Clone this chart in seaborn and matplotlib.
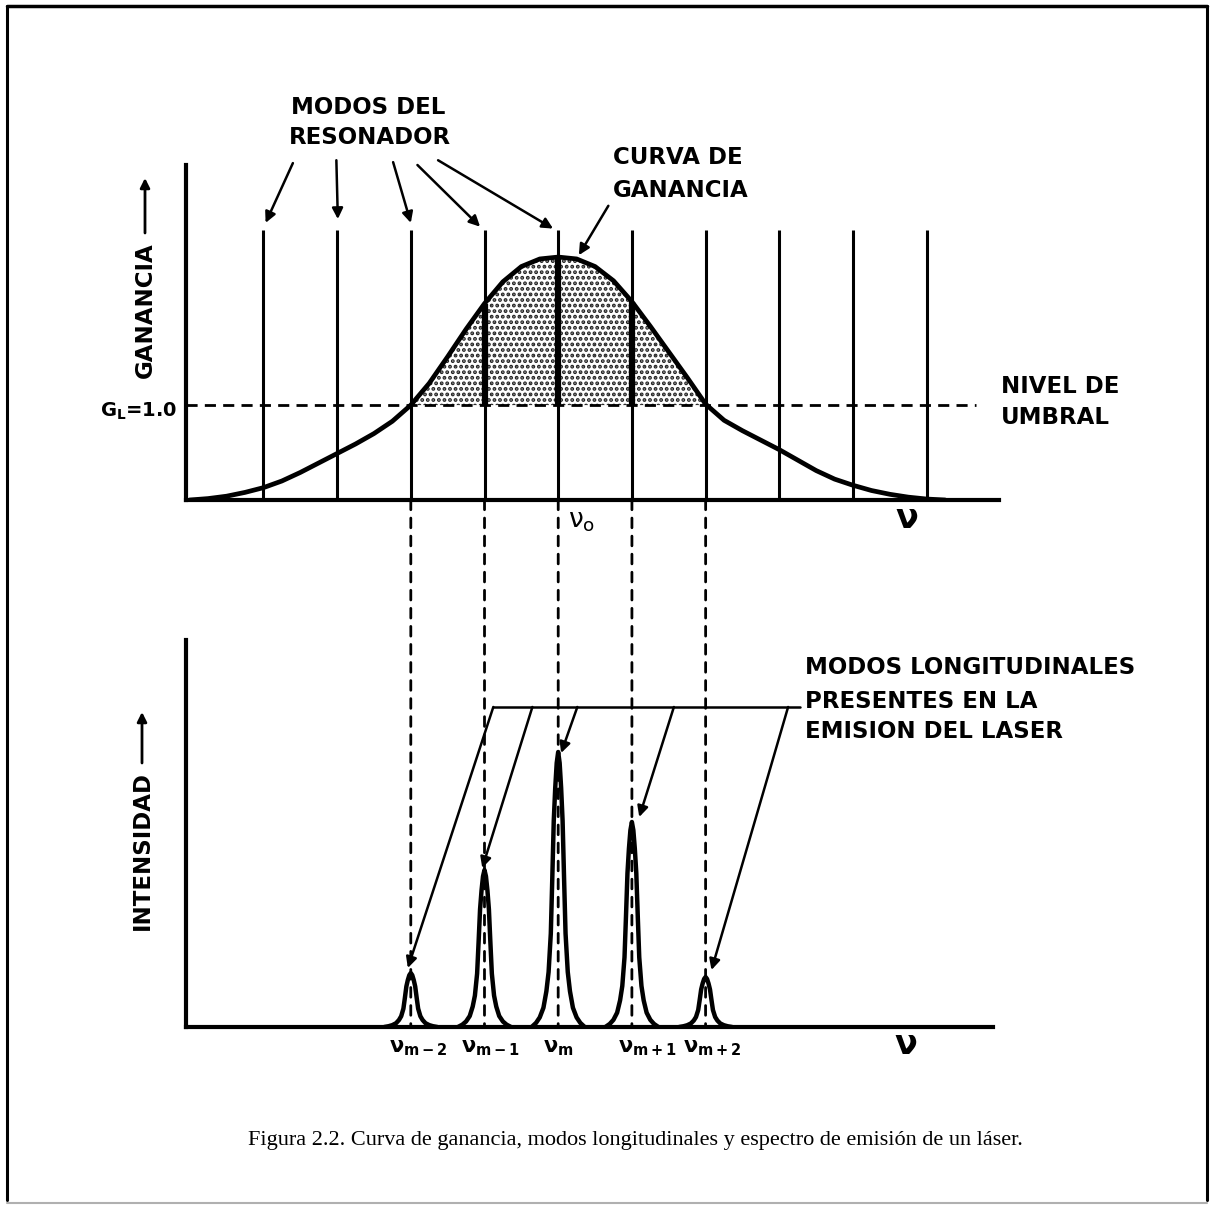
import numpy as np
import pandas as pd
import matplotlib
matplotlib.use("Agg")
import matplotlib.pyplot as plt
import seaborn as sns
from matplotlib.patches import ConnectionPatch, FancyArrowPatch
from matplotlib.lines import Line2D

# ---------------- data (frequency in units of the mode spacing, mode m at 0) ----------------
mode_positions = [-4, -3, -2, -1, 0, 1, 2, 3, 4, 5]      # resonator modes
mode_top = 2.84                                           # drawn height of resonator mode lines
threshold = 1.0                                           # G_L = 1.0

gain_x = [-5.0, -4.75, -4.5, -4.25, -4.0, -3.75, -3.5, -3.25, -3.0, -2.75, -2.5, -2.25,
          -2.0, -1.75, -1.5, -1.25, -1.0, -0.75, -0.5, -0.25, 0.0, 0.25, 0.5, 0.75,
          1.0, 1.25, 1.5, 1.75, 2.0, 2.25, 2.5, 2.75, 3.0, 3.25, 3.5, 3.75,
          4.0, 4.25, 4.5, 4.75, 5.0, 5.25]
gain_y = [0.0, 0.015, 0.04, 0.08, 0.13, 0.20, 0.29, 0.39, 0.49, 0.59, 0.70, 0.83,
          1.00, 1.23, 1.51, 1.80, 2.07, 2.30, 2.46, 2.54, 2.56, 2.54, 2.46, 2.31,
          2.09, 1.83, 1.56, 1.29, 1.01, 0.84, 0.73, 0.63, 0.53, 0.42, 0.31, 0.22,
          0.155, 0.10, 0.06, 0.03, 0.01, 0.0]

lasing_modes = [-2, -1, 0, 1, 2]
lasing_gain = [1.00, 2.07, 2.56, 2.09, 1.01]
intensity = [0.54, 1.57, 2.75, 2.05, 0.50]               # peak heights of emitted modes

peak_half_offsets = [0, 0.02, 0.04, 0.06, 0.08, 0.10, 0.13, 0.16, 0.20, 0.25, 0.30, 0.36]
peak_half_profile = [1.0, 0.96, 0.87, 0.75, 0.54, 0.34, 0.20, 0.13, 0.07, 0.035, 0.015, 0.0]

mode_labels = [r"$\nu_{m-2}$", r"$\nu_{m-1}$", r"$\nu_{m}$", r"$\nu_{m+1}$", r"$\nu_{m+2}$"]

# arrows "MODOS DEL RESONADOR": tails -> tips (top panel data coords)
res_tail_x = [-3.60, -3.01, -2.24, -1.91, -1.63]
res_tail_y = [3.55, 3.58, 3.56, 3.53, 3.58]
res_tip_x = [-3.97, -2.99, -2.00, -1.06, -0.07]
res_tip_y = [2.92, 2.96, 2.92, 2.88, 2.86]

# lines "MODOS LONGITUDINALES ..." (bottom panel data coords)
bracket_y = 3.2
bracket_x = [-0.88, 3.28]
long_tail_x = [-0.88, -0.35, 0.26, 1.57, 3.12]
long_tip_x = [-2.04, -1.03, 0.04, 1.10, 2.08]
long_tip_y = [0.59, 1.59, 2.74, 2.10, 0.57]

# ---------------- figure ----------------
W, H = 1215, 1206
sns.set_theme(style="white")
plt.rcParams["font.family"] = ["DejaVu Sans"]
plt.rcParams["mathtext.default"] = "regular"
plt.rcParams["hatch.linewidth"] = 1.9

fig = plt.figure(figsize=(W / 100, H / 100), dpi=100)
fig.patch.set_facecolor("white")


def fx(px):
    return px / W


def fy(py):
    return 1 - py / H


# top panel: baseline at y=500 px, top of axis 165 px, x from 186 to 999 px
ax1 = fig.add_axes([fx(186), fy(500), fx(999) - fx(186), fy(165) - fy(500)])
# bottom panel: baseline 1027 px, top 640 px, x from 186 to 993 px
ax2 = fig.add_axes([fx(186), fy(1027), fx(993) - fx(186), fy(640) - fy(1027)])

for ax in (ax1, ax2):
    ax.set_facecolor("none")
    for s in ("top", "right"):
        ax.spines[s].set_visible(False)
    for s in ("left", "bottom"):
        ax.spines[s].set_linewidth(3.0)
        ax.spines[s].set_color("black")
    ax.set_xticks([])
    ax.set_yticks([])

ax1.set_xlim(-5.05, 5.98)
ax1.set_ylim(0, 3.53)
ax2.set_xlim(-5.05, 5.90)
ax2.set_ylim(0, 3.87)

# --- top panel ---
gx = np.array(gain_x)
gy = np.array(gain_y)
ax1.fill_between(gx, threshold, gy, where=gy >= threshold, interpolate=True,
                 facecolor="white", edgecolor="#222222", hatch="...", linewidth=0, zorder=1)
ax1.hlines(threshold, -5.05, 5.67, colors="black", linestyles=(0, (4, 2.6)), lw=2.0, zorder=2)
ax1.vlines(mode_positions, 0, mode_top, colors="black", lw=2.2, zorder=3)
ax1.vlines(lasing_modes[1:4], threshold, lasing_gain[1:4], colors="black", lw=4.5, zorder=3)
sns.lineplot(x=gain_x, y=gain_y, ax=ax1, color="black", lw=3.4, sort=False,
             estimator=None, zorder=4, legend=False, solid_joinstyle="round")
ax1.set_xlabel("")
ax1.set_ylabel("")

arrow_kw = dict(arrowstyle="-|>", color="black", lw=1.8, mutation_scale=16,
                shrinkA=0, shrinkB=0)
for tx, ty, hx, hy in zip(res_tail_x, res_tail_y, res_tip_x, res_tip_y):
    ax1.annotate("", xy=(hx, hy), xytext=(tx, ty), arrowprops=arrow_kw, annotation_clip=False)
ax1.annotate("", xy=(0.28, 2.58), xytext=(0.68, 3.10), arrowprops=arrow_kw, annotation_clip=False)

# --- bottom panel ---
rows = []
full_off = [-o for o in peak_half_offsets[::-1]] + peak_half_offsets[1:]
full_prof = peak_half_profile[::-1] + peak_half_profile[1:]
for m, h in zip(lasing_modes, intensity):
    for o, p in zip(full_off, full_prof):
        rows.append({"mode": m, "nu": m + o, "I": h * p})
peaks = pd.DataFrame(rows)
sns.lineplot(data=peaks, x="nu", y="I", units="mode", estimator=None, sort=False,
             color="black", lw=3.2, ax=ax2, legend=False, zorder=4, solid_joinstyle="round")
ax2.set_xlabel("")
ax2.set_ylabel("")

ax2.plot(bracket_x, [bracket_y, bracket_y], color="black", lw=1.8, zorder=3)
for tx, hx, hy in zip(long_tail_x, long_tip_x, long_tip_y):
    ax2.annotate("", xy=(hx, hy), xytext=(tx, bracket_y), arrowprops=arrow_kw,
                 annotation_clip=False)

# dashed projections from the gain panel to the spectrum
for m in lasing_modes:
    con = ConnectionPatch(xyA=(m, 0), coordsA=ax1.transData, xyB=(m, 0), coordsB=ax2.transData,
                          color="black", lw=2.0, linestyle=(0, (3.5, 3)), zorder=2)
    fig.add_artist(con)

# ---------------- texts ----------------
lab = dict(fontsize=16.5, fontweight="bold", color="black")


def txt(px, py, s, ha="center", va="center", **kw):
    d = dict(lab)
    d.update(kw)
    fig.text(fx(px), fy(py), s, ha=ha, va=va, **d)


txt(368, 107, "MODOS DEL")
txt(370, 138, "RESONADOR")
txt(613, 158, "CURVA DE", ha="left")
txt(613, 190, "GANANCIA", ha="left")
txt(1001, 387, "NIVEL DE", ha="left")
txt(1001, 418, "UMBRAL", ha="left")
txt(805, 668, "MODOS LONGITUDINALES", ha="left")
txt(805, 702, "PRESENTES EN LA", ha="left")
txt(805, 732, "EMISION DEL LASER", ha="left")
txt(145, 310, "GANANCIA", rotation=90)
txt(142, 851, "INTENSIDAD", rotation=90)
txt(177, 411, r"G$_L$=1.0", ha="right", fontsize=14)

side_arrow = dict(arrowstyle="-|>", color="black", lw=2.0, mutation_scale=14,
                  shrinkA=0, shrinkB=0)
fig.add_artist(FancyArrowPatch((fx(145), fy(233)), (fx(145), fy(178)),
                               transform=fig.transFigure, **side_arrow))
fig.add_artist(FancyArrowPatch((fx(142), fy(763)), (fx(142), fy(712)),
                               transform=fig.transFigure, **side_arrow))

txt(582, 521, r"$\nu_o$", fontsize=19, fontweight="normal")
txt(907, 519, r"$\nu$", fontsize=24)
for xpx, s in zip([418, 490, 558, 647, 712], mode_labels):
    txt(xpx, 1048, s, fontsize=15)
txt(906, 1045, r"$\nu$", fontsize=24)

fig.text(fx(635), fy(1140), "Figura 2.2. Curva de ganancia, modos longitudinales y espectro de emisión de un láser.",
         ha="center", va="center", fontsize=16, family="Liberation Serif", color="black")

# ---------------- page border ----------------
for (x0, y0, x1, y1, c, w) in [(7, 6, 7, 1200, "black", 2.2), (7, 6, 1207, 6, "black", 2.5),
                               (1207, 6, 1207, 1200, "black", 2.2), (7, 1203, 1207, 1203, "#b0b0b0", 1.5)]:
    fig.add_artist(Line2D([fx(x0), fx(x1)], [fy(y0), fy(y1)], transform=fig.transFigure,
                          color=c, lw=w))

fig.savefig("out.png", dpi=100, facecolor="white")
